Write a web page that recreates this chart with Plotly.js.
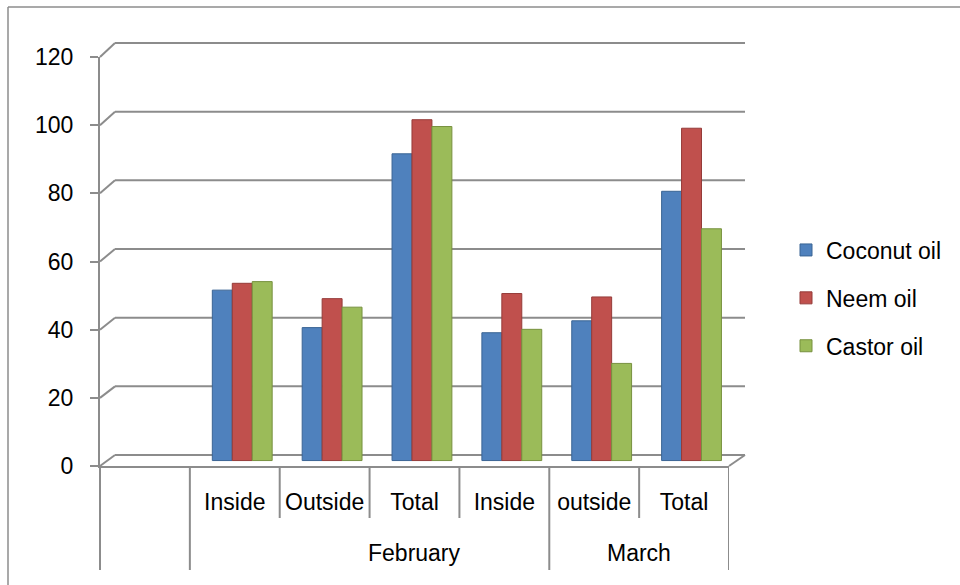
<!DOCTYPE html>
<html>
<head>
<meta charset="utf-8">
<script src="https://cdn.plot.ly/plotly-3.0.1.min.js"></script>
<style>html,body{margin:0;padding:0;background:#fff;}#chart{width:960px;height:585px;}</style>
</head>
<body>
<div id="chart"></div>
<script>
// ---- data ----
const categories = ["", "Inside", "Outside", "Total", "Inside", "outside", "Total"];
const months = ["February", "March"];
const seriesNames = ["Coconut oil", "Neem oil", "Castor oil"];
const coconut = [null, 50, 39, 90, 37.5, 41, 79];
const neem = [null, 52, 47.5, 100, 49, 48, 97.5];
const castor = [null, 52.5, 45, 98, 38.5, 28.5, 68];
const yTicks = [0, 20, 40, 60, 80, 100, 120];

// ---- styling / geometry ----
const colors = ["#4F81BD", "#C0504D", "#9BBB59"];
const edge = ["#3A6494", "#953B39", "#77913F"];
const offsets = [-0.25, -0.028, 0.194];
const barW = 0.222;
const gridCol = "#8C8C8C";
const FONT = "Liberation Sans, Arial, sans-serif";

const W = 960, H = 585, ML = 100, MR = 231, MT = 57, MB = 119;
const plotW = W - ML - MR, plotH = H - MT - MB;
const px2x = px => (px - ML) / plotW;
const py2y = py => (H - MB - py) / plotH;
// back wall of the 3-D frame
const backPx = v => 455 - v * (412 / 120);

const xs = categories.map((_, i) => i);
const dataSets = [coconut, neem, castor];
const traces = dataSets.map((vals, k) => ({
  type: "bar",
  name: seriesNames[k],
  legendgroup: "g" + k,
  x: xs,
  y: vals,
  base: 1.6,
  width: barW,
  offset: offsets[k],
  marker: {color: colors[k], line: {color: edge[k], width: 1}},
  hoverinfo: "name+y"
}));

const shapes = [];
const ln = (x0, y0, x1, y1, extra) => Object.assign({
  type: "line", xref: "paper", yref: "paper", x0, y0, x1, y1,
  line: {color: gridCol, width: 2}, layer: "below"
}, extra || {});

yTicks.forEach(v => {
  const fy = v / 120;
  const by = py2y(backPx(v));
  shapes.push(ln(0, fy, px2x(115), by));
  shapes.push(ln(px2x(115), by, px2x(745), by));
});
// floor right edge
shapes.push(ln(1, 0, px2x(745), py2y(455)));
// axis line extension down through category table
shapes.push(ln(0, 0, 0, py2y(570)));
// category table dividers
const longB = [0.5, 4.5, 6.5];
const shortB = [1.5, 2.5, 3.5, 5.5];
longB.forEach(b => shapes.push({type: "line", xref: "x", yref: "paper", x0: b, x1: b, y0: 0, y1: py2y(570), line: {color: gridCol, width: 2}}));
shortB.forEach(b => shapes.push({type: "line", xref: "x", yref: "paper", x0: b, x1: b, y0: 0, y1: py2y(518), line: {color: gridCol, width: 2}}));
// outer chart border (top + left)
shapes.push(ln(px2x(8), py2y(7), px2x(962), py2y(7), {line: {color: "#8C8C8C", width: 1.5}}));
shapes.push(ln(px2x(8), py2y(7), px2x(8), py2y(590), {line: {color: "#8C8C8C", width: 1.5}}));

const monthFont = {family: FONT, size: 23, color: "#000"};
const annotations = [
  {text: months[0], x: 3, xref: "x", y: py2y(553), yref: "paper", yanchor: "middle", xanchor: "center", showarrow: false, font: monthFont},
  {text: months[1], x: 5.5, xref: "x", y: py2y(553), yref: "paper", yanchor: "middle", xanchor: "center", showarrow: false, font: monthFont}
];

const layout = {
  width: W, height: H,
  margin: {l: ML, r: MR, t: MT, b: MB, pad: 0},
  paper_bgcolor: "#fff", plot_bgcolor: "rgba(0,0,0,0)",
  font: {family: FONT, size: 23, color: "#000"},
  barmode: "overlay",
  showlegend: true,
  legend: {x: px2x(786), xanchor: "left", y: py2y(298), yanchor: "middle",
           font: {family: FONT, size: 23, color: "#000"}, tracegroupgap: 15,
           bgcolor: "rgba(0,0,0,0)"},
  xaxis: {range: [-0.5, 6.5], tickmode: "array", tickvals: xs.slice(1), ticktext: categories.slice(1),
          showline: true, linecolor: gridCol, linewidth: 2, ticks: "", showgrid: false, zeroline: false,
          ticklabelstandoff: 14, tickfont: {family: FONT, size: 23, color: "#000"}, fixedrange: true},
  yaxis: {range: [0, 120], tickmode: "array", tickvals: yTicks, showline: true, linecolor: gridCol, linewidth: 2,
          ticks: "outside", ticklen: 8, tickwidth: 2, tickcolor: gridCol, showgrid: false, zeroline: false,
          ticklabelstandoff: 12, tickfont: {family: FONT, size: 23, color: "#000"}, fixedrange: true},
  shapes, annotations
};

Plotly.newPlot("chart", traces, layout, {displayModeBar: false, staticPlot: true});
</script>
</body>
</html>
